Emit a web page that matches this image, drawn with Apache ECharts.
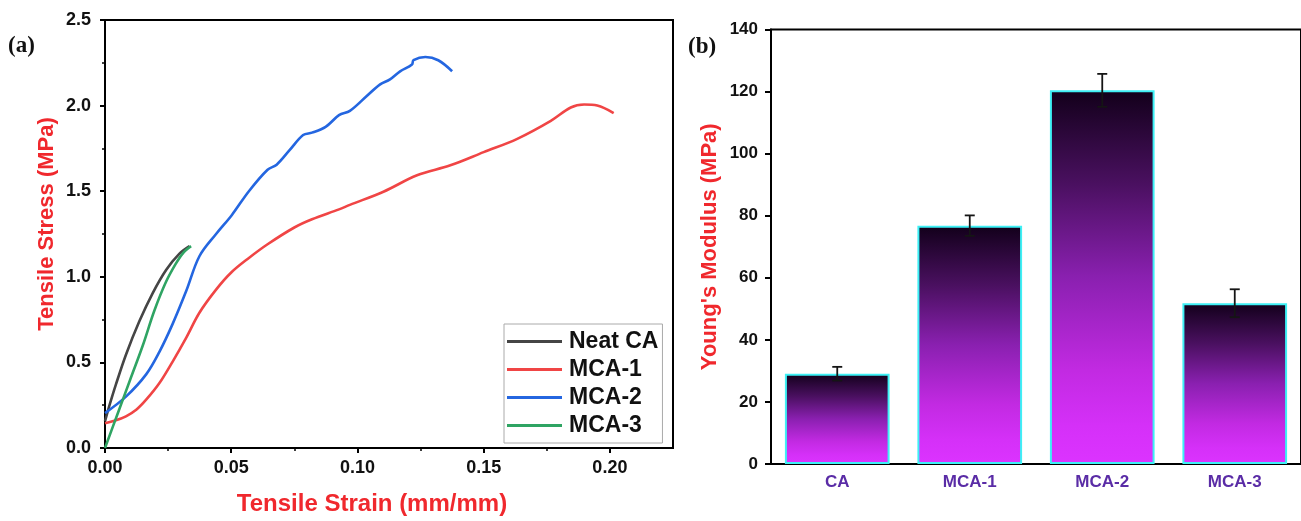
<!DOCTYPE html>
<html>
<head>
<meta charset="utf-8">
<script src="https://cdn.jsdelivr.net/npm/echarts@6/dist/echarts.min.js"></script>
<style>
html,body{margin:0;padding:0;background:#fff;}
#main{width:1301px;height:521px;}
</style>
</head>
<body>
<div id="main"></div>
<script>
// ---- Data: panel (a) stress-strain curves [strain, stress] ----
const neatCA = [[0,0.156],[0.002,0.26],[0.0043,0.37],[0.0083,0.545],[0.0136,0.74],[0.0189,0.905],[0.0242,1.04],[0.0295,1.135],[0.0335,1.179]];
const mca1 = [[0,0.145],[0.004,0.16],[0.0083,0.185],[0.0125,0.225],[0.0163,0.282],[0.0215,0.378],[0.0268,0.505],[0.0322,0.645],[0.0374,0.79],[0.044,0.925],[0.05,1.025],[0.057,1.11],[0.0644,1.19],[0.075,1.288],[0.082,1.336],[0.0927,1.394],[0.097,1.42],[0.1103,1.497],[0.1236,1.593],[0.1368,1.651],[0.150,1.728],[0.1633,1.806],[0.1766,1.911],[0.1845,1.989],[0.1898,2.006],[0.195,2.0],[0.2015,1.956]];
const mca2 = [[0,0.204],[0.0083,0.30],[0.0163,0.43],[0.0215,0.56],[0.0268,0.725],[0.0322,0.918],[0.0374,1.12],[0.044,1.25],[0.0502,1.36],[0.057,1.50],[0.0644,1.625],[0.068,1.655],[0.0732,1.741],[0.0785,1.828],[0.082,1.842],[0.0874,1.876],[0.0927,1.944],[0.097,1.969],[0.1037,2.056],[0.109,2.124],[0.1129,2.153],[0.1169,2.20],[0.1216,2.24],[0.1222,2.265],[0.1269,2.284],[0.1320,2.265],[0.1375,2.201]];
const mca3 = [[0,0],[0.005,0.2],[0.01,0.4],[0.015,0.6],[0.0195,0.8],[0.024,0.965],[0.028,1.075],[0.031,1.14],[0.0341,1.179]];
const curveNames = ['Neat CA','MCA-1','MCA-2','MCA-3'];
const strainTicks = [0, 0.05, 0.10, 0.15, 0.20];

// ---- Data: panel (b) Young's modulus ----
const categories = ['CA','MCA-1','MCA-2','MCA-3'];
const modulus = [29.1, 76.8, 120.4, 51.8];
const modulusErr = [2.2, 3.3, 5.3, 4.5];

const RED = '#f0282d';
const FONT = '"Liberation Sans", Arial, sans-serif';

const chart = echarts.init(document.getElementById('main'), null, {renderer:'canvas'});

const lineColors = ['#454545','#f04545','#2466e0','#2fa463'];

const curveSeries = [neatCA, mca1, mca2, mca3].map((d, i) => ({
  name: curveNames[i],
  type: 'line',
  xAxisIndex: 0, yAxisIndex: 0,
  data: d,
  symbol: 'none',
  smooth: 0.35,
  lineStyle: {color: lineColors[i], width: 2.6},
  itemStyle: {color: lineColors[i]},
  z: 3
}));

const option = {
  backgroundColor: '#fff',
  animation: false,
  textStyle: {fontFamily: FONT},
  grid: [
    {left: 105, top: 20, width: 568, height: 432, show: true, borderColor: '#000', borderWidth: 2, backgroundColor: 'transparent'},
    {left: 771, top: 29.5, width: 538, height: 434.5, show: true, borderColor: '#000', borderWidth: 2, backgroundColor: 'transparent'}
  ],
  legend: {
    data: curveNames,
    orient: 'vertical',
    left: 504, top: 324,
    icon: 'rect',
    itemWidth: 55, itemHeight: 3,
    itemGap: 5,
    padding: [6, 4, 6, 3],
    borderColor: '#aaa', borderWidth: 1,
    textStyle: {fontFamily: FONT, fontWeight: 'bold', fontSize: 23, color: '#111', padding: [0,0,0,2]}
  },
  xAxis: [
    {
      gridIndex: 0, type: 'value', min: 0, max: 0.225, interval: 0.05,
      name: 'Tensile Strain (mm/mm)', nameLocation: 'middle', nameGap: 44,
      nameTextStyle: {color: RED, fontWeight: 'bold', fontSize: 24, fontFamily: FONT, padding: [0, 34, 0, 0]},
      axisLine: {show: true, lineStyle: {color: '#000', width: 2}},
      axisTick: {show: true, length: 5, lineStyle: {color: '#000', width: 2}, customValues: strainTicks},
      minorTick: {show: true, splitNumber: 2, length: 3, lineStyle: {color: '#000', width: 1.5}},
      axisLabel: {customValues: strainTicks, color: '#111', fontWeight: 'bold', fontSize: 18, fontFamily: FONT, margin: 11, formatter: v => v.toFixed(2)},
      splitLine: {show: false}, minorSplitLine: {show: false}
    },
    {
      gridIndex: 1, type: 'category', data: categories,
      axisLine: {show: true, lineStyle: {color: '#000', width: 2}},
      axisTick: {show: false},
      axisLabel: {color: '#5a2ca6', fontWeight: 'bold', fontSize: 17, fontFamily: FONT, margin: 10},
      splitLine: {show: false}
    }
  ],
  yAxis: [
    {
      gridIndex: 0, type: 'value', min: 0, max: 2.5, interval: 0.5,
      name: 'Tensile Stress (MPa)', nameLocation: 'middle', nameGap: 47,
      nameTextStyle: {color: RED, fontWeight: 'bold', fontSize: 22, fontFamily: FONT, padding: [0, 0, 0, 20]},
      axisLine: {show: true, lineStyle: {color: '#000', width: 2}},
      axisTick: {show: true, length: 5, lineStyle: {color: '#000', width: 2}},
      minorTick: {show: true, splitNumber: 2, length: 3, lineStyle: {color: '#000', width: 1.5}},
      axisLabel: {color: '#111', fontWeight: 'bold', fontSize: 18, fontFamily: FONT, margin: 14, formatter: v => v.toFixed(1)},
      splitLine: {show: false}
    },
    {
      gridIndex: 1, type: 'value', min: 0, max: 140, interval: 20,
      name: "Young's Modulus (MPa)", nameLocation: 'middle', nameGap: 50,
      nameTextStyle: {color: RED, fontWeight: 'bold', fontSize: 22, fontFamily: FONT},
      axisLine: {show: true, lineStyle: {color: '#000', width: 2}},
      axisTick: {show: true, length: 6, lineStyle: {color: '#000', width: 2}},
      axisLabel: {color: '#111', fontWeight: 'bold', fontSize: 17, fontFamily: FONT, margin: 13},
      splitLine: {show: false}
    }
  ],
  graphic: [
    {type: 'text', left: 8, top: 35, style: {text: '(a)', font: 'bold 23px "Liberation Serif", "Times New Roman", serif', fill: '#111'}},
    {type: 'text', left: 688, top: 36, style: {text: '(b)', font: 'bold 23px "Liberation Serif", "Times New Roman", serif', fill: '#111'}}
  ],
  series: curveSeries.concat([
    {
      name: 'Modulus', type: 'bar', xAxisIndex: 1, yAxisIndex: 1,
      data: modulus, barWidth: '79%',
      itemStyle: {
        borderColor: '#3ef0f5', borderWidth: 2,
        color: new echarts.graphic.LinearGradient(0, 0, 0, 1, [
          {offset: 0, color: '#12001a'},
          {offset: 0.25, color: '#4a1060'},
          {offset: 0.5, color: '#8a20b0'},
          {offset: 0.75, color: '#c22ae2'},
          {offset: 0.9, color: '#d530f8'},
          {offset: 1, color: '#dc33ff'}
        ])
      },
      z: 2
    },
    {
      name: 'ModulusErr', type: 'custom', xAxisIndex: 1, yAxisIndex: 1,
      data: categories.map((c, i) => [i, modulus[i], modulusErr[i]]),
      encode: {x: 0, y: 1},
      renderItem: function (params, api) {
        const i = api.value(0), v = api.value(1), e = api.value(2);
        const top = api.coord([i, v + e]);
        const bot = api.coord([i, v - e]);
        const hw = 5;
        const st = {stroke: '#151515', lineWidth: 1.8};
        return {
          type: 'group',
          children: [
            {type: 'line', shape: {x1: top[0], y1: top[1], x2: bot[0], y2: bot[1]}, style: st},
            {type: 'line', shape: {x1: top[0] - hw, y1: top[1], x2: top[0] + hw, y2: top[1]}, style: st},
            {type: 'line', shape: {x1: bot[0] - hw, y1: bot[1], x2: bot[0] + hw, y2: bot[1]}, style: st}
          ]
        };
      },
      z: 5
    }
  ])
};

chart.setOption(option);
</script>
</body>
</html>
